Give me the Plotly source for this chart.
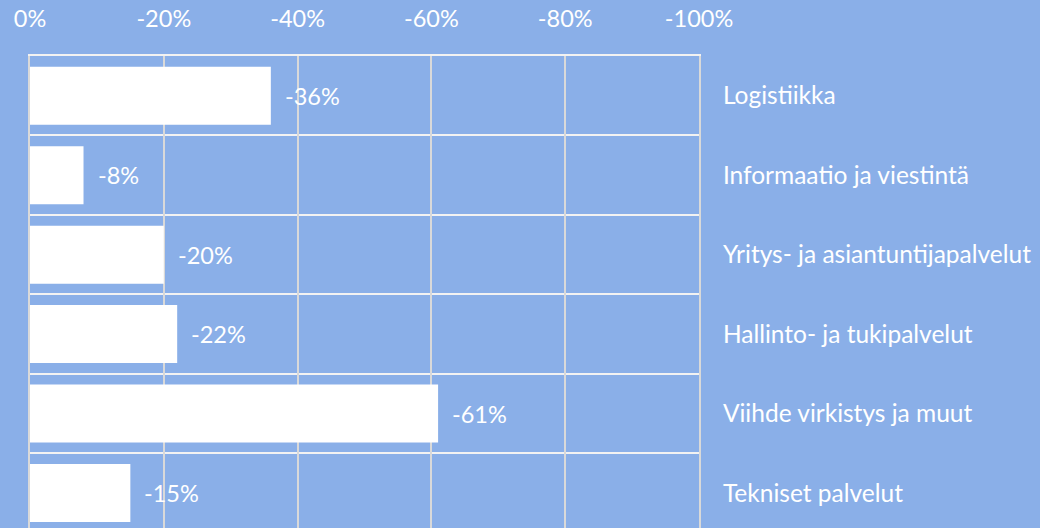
import plotly.graph_objects as go

categories = ["Logistiikka", "Informaatio ja viestintä", "Yritys- ja asiantuntijapalvelut",
              "Hallinto- ja tukipalvelut", "Viihde virkistys ja muut", "Tekniset palvelut"]
values = [-36, -8, -20, -22, -61, -15]
x_tickvals = [0, -20, -40, -60, -80, -100]
x_ticktext = ["0%", "-20%", "-40%", "-60%", "-80%", "-100%"]

BG = "#8AAFE8"
FONT = "Lato"
positions = list(range(len(categories)))

fig = go.Figure()
fig.add_trace(go.Bar(
    x=values, y=positions, orientation="h",
    marker=dict(color="white", line=dict(width=0)),
    width=0.73, hoverinfo="skip",
))

for p, v in zip(positions, values):
    fig.add_annotation(x=v, y=p, xref="x", yref="y", text=f"{v}%",
                       showarrow=False, xanchor="left", yanchor="middle",
                       xshift=12, font=dict(family=FONT, size=23.5, color="white"))

fig.update_layout(
    width=1040, height=528,
    margin=dict(l=30, r=341, t=56, b=0),
    paper_bgcolor=BG, plot_bgcolor=BG,
    showlegend=False,
    font=dict(family=FONT, size=24, color="white"),
    xaxis=dict(
        side="top", range=[0, -100], tickvals=x_tickvals, ticktext=x_ticktext,
        showgrid=True, gridcolor="#D9D9D9", gridwidth=1.5,
        zeroline=False, showline=True, linecolor="#F2F2F2", linewidth=2, mirror=False,
        ticks="", ticklabelstandoff=18,
        tickfont=dict(family=FONT, size=23.5, color="white"),
    ),
    yaxis=dict(
        side="right", range=[5.44, -0.5], tickvals=positions, ticktext=categories,
        showgrid=False, zeroline=False, showline=True, linecolor="#D9D9D9",
        linewidth=2, mirror=True, ticks="",
        ticklabelstandoff=17,
        tickfont=dict(family=FONT, size=24.5, color="white"),
        minor=dict(tick0=0.5, dtick=1, showgrid=True, gridcolor="#F2F2F2", gridwidth=2, ticks=""),
    ),
)

fig.write_html("out.html", config={"displayModeBar": False},
               post_script="document.body.style.margin='0';document.body.style.overflow='hidden';document.body.style.background='#8AAFE8';")
